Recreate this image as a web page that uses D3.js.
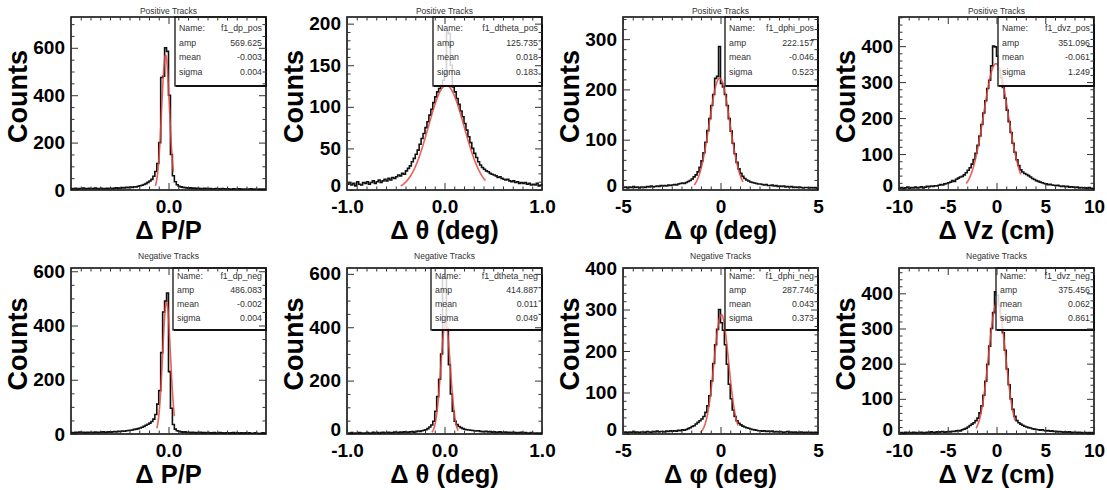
<!DOCTYPE html>
<html>
<head>
<meta charset="utf-8">
<script src="https://cdn.jsdelivr.net/npm/d3@7"></script>
<style>
  html, body { margin: 0; padding: 0; background: #fff; }
  svg { display: block; font-family: "Liberation Sans", Arial, Helvetica, sans-serif; }
</style>
</head>
<body>
<svg id="chart" width="1107" height="490"></svg>
<script>
// ---------- histogram contents, 100 equal bins over each x range ----------
const dpPos = [
  6,5,7,4,6,5,8,5,6,7, 5,6,8,6,5,7,6,5,7,6, 7,6,8,9,7,8,10,9,11,10,
  12,11,14,13,16,18,20,23,27,32, 38,45,58,78,112,200,475,480,600,585,
  400,150,60,35,22,16,13,11,10,9, 8,9,7,8,6,7,6,5,7,6, 5,6,4,5,6,5,4,6,5,4,
  5,4,3,5,4,4,5,3,4,4, 3,4,5,3,4,3,4,3,4,3
];
const dthetaPos = [
  7,9,6,8,5,10,7,6,9,8, 10,7,9,11,8,10,12,9,11,13, 11,14,12,15,14,16,18,17,20,19,
  23,26,29,34,38,43,48,55,62,68, 75,82,90,97,105,112,118,122,126,132,
  140,190,188,150,124,118,110,103,95,88, 80,72,64,57,50,44,39,34,30,27,
  25,23,22,20,19,18,17,15,16,14, 13,12,13,11,10,11,9,10,8,9, 8,9,7,8,6,7,6,8,5,6
];
const dphiPos = [
  5,6,4,6,5,7,5,6,4,6, 6,5,7,6,8,6,7,8,7,9, 8,9,8,10,9,10,11,10,12,13,
  14,13,15,17,19,22,26,30,36,45, 58,74,95,118,142,168,190,222,226,285,
  212,205,190,168,142,117,93,72,55,42, 33,27,23,20,18,16,15,14,13,12,
  12,11,10,11,9,9,10,8,9,7, 8,7,8,6,7,6,7,5,6,5, 6,5,4,5,5,4,5,4,5,3
];
const dvzPos = [
  5,7,4,6,8,5,7,6,8,6, 7,9,6,8,10,9,11,10,12,11, 13,15,14,17,18,20,22,26,24,30,
  33,36,38,42,48,55,62,72,85,102, 124,150,182,214,248,282,305,345,400,398,
  372,335,312,285,255,222,190,160,130,105, 84,68,56,50,46,43,40,36,32,29,
  26,24,22,20,18,17,15,16,14,13, 12,13,11,10,11,9,10,8,9,8, 7,8,6,7,6,6,5,7,5,4
];
const dpNeg = [
  5,4,6,5,7,5,6,4,6,5, 6,5,7,6,5,7,8,6,7,8, 7,8,9,8,10,9,11,10,12,13,
  14,15,17,18,20,22,25,28,32,36, 40,46,55,72,110,160,300,450,490,520,
  230,95,35,18,12,10,8,7,8,6, 6,5,6,5,4,5,6,4,5,4, 5,4,4,5,3,4,5,4,3,4,
  4,3,4,5,3,4,3,4,3,4, 3,4,3,3,4,3,2,3,4,3
];
const dthetaNeg = [
  4,3,5,2,4,3,5,4,3,4, 5,3,4,6,4,5,3,5,6,4, 5,6,4,5,7,6,5,7,6,8,
  7,6,8,9,7,9,11,10,12,14, 16,20,26,34,48,85,140,205,300,590,
  585,395,260,150,85,48,35,28,24,20, 18,16,15,14,13,12,11,12,10,9,
  9,10,8,9,7,8,6,7,8,6, 6,7,5,6,5,6,5,4,5,6, 4,5,4,3,5,4,3,4,3,4
];
const dphiNeg = [
  4,5,3,5,4,6,4,5,3,5, 5,4,6,5,4,6,5,7,5,6, 6,5,7,6,8,7,8,7,9,8,
  10,9,11,13,15,18,20,24,28,32, 36,42,52,68,92,128,170,215,252,300,
  268,250,215,168,120,85,58,42,32,26, 22,19,17,15,14,12,11,10,9,8,
  8,7,8,6,7,6,7,5,6,5, 6,5,4,5,6,4,5,4,5,3, 4,5,3,4,4,3,4,3,4,3
];
const dvzNeg = [
  3,4,2,5,3,4,3,5,4,3, 4,5,3,4,5,4,6,5,4,6, 5,6,7,5,6,7,6,8,7,9,
  10,9,12,14,16,20,24,28,32,38, 45,60,80,110,150,198,250,300,345,404,
  395,365,330,288,238,185,140,100,70,50, 38,32,28,25,22,20,18,17,15,14,
  13,12,11,12,10,9,10,8,9,7, 8,6,7,6,5,6,5,6,4,5, 5,4,5,4,3,4,3,4,3,4
];

// ---------- axes ----------
const rowTitles = ["Positive Tracks", "Negative Tracks"];
const axisTitles = ["\u0394 P/P", "\u0394 \u03b8 (deg)", "\u0394 \u03c6 (deg)", "\u0394 Vz (cm)"];
const xDomains = [[-0.1, 0.1], [-1, 1], [-5, 5], [-10, 10]];
const xTickValues = [[0], [-1, 0, 1], [-5, 0, 5], [-10, -5, 0, 5, 10]];
const xTickLabels = [["0.0"], ["-1.0", "0.0", "1.0"], ["-5", "0", "5"], ["-10", "-5", "0", "5", "10"]];
const xMinorSteps = [0.01, 0.1, 0.5, 1];
const yMaxPos = [730, 208, 344, 481];
const yMaxNeg = [612, 622, 400, 472];
const yStepPos = [200, 50, 100, 100];
const yStepNeg = [200, 200, 100, 100];
const yMinorPos = [50, 10, 20, 20];
const yMinorNeg = [50, 50, 20, 20];

// ---------- Gaussian fit results ----------
const fitNamesPos = ["f1_dp_pos", "f1_dtheta_pos", "f1_dphi_pos", "f1_dvz_pos"];
const fitNamesNeg = ["f1_dp_neg", "f1_dtheta_neg", "f1_dphi_neg", "f1_dvz_neg"];
const ampPos = [569.625, 125.735, 222.157, 351.096];
const meanPos = [-0.003, 0.018, -0.046, -0.061];
const sigmaPos = [0.004, 0.183, 0.523, 1.249];
const ampNeg = [486.083, 414.887, 287.746, 375.456];
const meanNeg = [-0.002, 0.011, 0.043, 0.062];
const sigmaNeg = [0.004, 0.049, 0.373, 0.861];
const fitRangePos = [[-0.0135, 0.005], [-0.45, 0.42], [-1.35, 1.15], [-3.1, 2.5]];
const fitRangeNeg = [[-0.012, 0.006], [-0.13, 0.14], [-1.05, 0.9], [-2.1, 1.9]];

const rows = [
  { title: rowTitles[0], counts: [dpPos, dthetaPos, dphiPos, dvzPos], names: fitNamesPos,
    amp: ampPos, mean: meanPos, sigma: sigmaPos, fitRange: fitRangePos,
    yMax: yMaxPos, yStep: yStepPos, yMinor: yMinorPos },
  { title: rowTitles[1], counts: [dpNeg, dthetaNeg, dphiNeg, dvzNeg], names: fitNamesNeg,
    amp: ampNeg, mean: meanNeg, sigma: sigmaNeg, fitRange: fitRangeNeg,
    yMax: yMaxNeg, yStep: yStepNeg, yMinor: yMinorNeg }
];

// ---------- layout ----------
const frameW = 195;
const colLeft = c => 71 + 276 * c;
const rowGeom = [
  { top: 17, bottom: 190, boxH: 69, textTop: 14, textStep: 14.5, titleY: 14 },
  { top: 268, bottom: 434, boxH: 62, textTop: 10.5, textStep: 14, titleY: 259 }
];
const boxWidths = [[91, 109, 93, 96], [93, 111, 93, 98]];
const boldFont = "'Liberation Sans', Arial, sans-serif";

const svg = d3.select("#chart");
const defs = svg.append("defs");
const fmt3 = v => v.toFixed(3);
const stepsBetween = (lo, hi, step) => {
  const out = [];
  const n0 = Math.ceil(lo / step - 1e-9), n1 = Math.floor(hi / step + 1e-9);
  for (let k = n0; k <= n1; k++) out.push(+(k * step).toFixed(6));
  return out;
};

rows.forEach((row, r) => {
  const geo = rowGeom[r];
  for (let c = 0; c < 4; c++) {
    const x0 = colLeft(c), x1 = x0 + frameW;
    const [lo, hi] = xDomains[c];
    const x = d3.scaleLinear().domain([lo, hi]).range([x0, x1]);
    const y = d3.scaleLinear().domain([0, row.yMax[c]]).range([geo.bottom, geo.top]);
    const g = svg.append("g");
    const clipId = `clip-${r}-${c}`;
    defs.append("clipPath").attr("id", clipId)
      .append("rect").attr("x", x0).attr("y", geo.top).attr("width", frameW).attr("height", geo.bottom - geo.top);

    // histogram outline
    const counts = row.counts[c];
    const bw = (hi - lo) / counts.length;
    const pts = counts.map((v, i) => [lo + i * bw, v]);
    pts.push([hi, counts[counts.length - 1]]);
    const histLine = d3.line().x(d => x(d[0])).y(d => y(d[1])).curve(d3.curveStepAfter);
    g.append("path").attr("d", histLine(pts))
      .attr("fill", "none").attr("stroke", "#111").attr("stroke-width", 1.6)
      .attr("clip-path", `url(#${clipId})`);

    // fitted Gaussian over its fit interval
    const [f0, f1] = row.fitRange[c];
    const A = row.amp[c], mu = row.mean[c], s = row.sigma[c];
    const gauss = t => A * Math.exp(-0.5 * ((t - mu) / s) ** 2);
    const ts = d3.range(0, 241).map(k => f0 + (f1 - f0) * k / 240);
    g.append("path")
      .attr("d", d3.line().x(t => x(t)).y(t => y(gauss(t)))(ts))
      .attr("fill", "none").attr("stroke", "#e5453b").attr("stroke-width", 1.6)
      .attr("stroke-opacity", 0.85).attr("clip-path", `url(#${clipId})`);

    // statistics box
    const bW = boxWidths[r][c];
    const bx = x1 - bW, by = geo.top;
    const box = g.append("g");
    box.append("rect").attr("x", bx).attr("y", by).attr("width", bW).attr("height", geo.boxH)
      .attr("fill", "#fff").attr("fill-opacity", 0.82).attr("stroke", "#111").attr("stroke-width", 1.3);
    box.append("path")
      .attr("d", `M${bx + 1},${by + geo.boxH} H${x1} V${by + 1}`)
      .attr("fill", "none").attr("stroke", "#111").attr("stroke-width", 2);
    const lines = [["Name:", row.names[c]], ["amp", fmt3(A)], ["mean", fmt3(mu)], ["sigma", fmt3(s)]];
    lines.forEach((ln, i) => {
      const ty = by + geo.textTop + i * geo.textStep;
      box.append("text").attr("x", bx + 4).attr("y", ty)
        .attr("font-size", 8.8).attr("fill", "#333").text(ln[0]);
      box.append("text").attr("x", x1 - 4).attr("y", ty).attr("text-anchor", "end")
        .attr("font-size", 8.8).attr("fill", "#333").text(ln[1]);
    });

    // frame
    g.append("rect").attr("x", x0).attr("y", geo.top).attr("width", frameW).attr("height", geo.bottom - geo.top)
      .attr("fill", "none").attr("stroke", "#111").attr("stroke-width", 1.6);

    // y axis ticks (left with labels, right mirrored)
    const yMajor = stepsBetween(0, row.yMax[c], row.yStep[c]);
    const yMinor = stepsBetween(0, row.yMax[c], row.yMinor[c]).filter(v => !yMajor.includes(v));
    const yLeft = g.append("g").attr("transform", `translate(${x0},0)`)
      .call(d3.axisLeft(y).tickValues(yMajor).tickSize(-7).tickPadding(6).tickFormat(d3.format("d")));
    yLeft.select(".domain").remove();
    yLeft.selectAll("text").attr("font-size", 19).attr("font-weight", "bold").attr("fill", "#000")
      .attr("font-family", boldFont);
    // the zero label sits a little higher where an x label starts at the frame corner
    if (xTickValues[c][0] === lo) {
      yLeft.selectAll(".tick").filter(d => d === 0).select("text").attr("dy", "0.06em");
    }
    const yLeftMinor = g.append("g").attr("transform", `translate(${x0},0)`)
      .call(d3.axisLeft(y).tickValues(yMinor).tickSize(-3.5).tickFormat(""));
    yLeftMinor.select(".domain").remove();
    const yRight = g.append("g").attr("transform", `translate(${x1},0)`)
      .call(d3.axisRight(y).tickValues(yMajor).tickSize(-7).tickFormat(""));
    yRight.select(".domain").remove();
    const yRightMinor = g.append("g").attr("transform", `translate(${x1},0)`)
      .call(d3.axisRight(y).tickValues(yMinor).tickSize(-3.5).tickFormat(""));
    yRightMinor.select(".domain").remove();

    // x axis ticks (bottom with labels, top mirrored)
    const xMajor = xTickValues[c];
    const xMinor = stepsBetween(lo, hi, xMinorSteps[c]).filter(v => !xMajor.includes(v) && v > lo && v < hi);
    const labels = xTickLabels[c];
    const xBottom = g.append("g").attr("transform", `translate(0,${geo.bottom})`)
      .call(d3.axisBottom(x).tickValues(xMajor).tickSize(-7).tickPadding(9.5)
        .tickFormat((d, i) => labels[i]));
    xBottom.select(".domain").remove();
    xBottom.selectAll("text").attr("font-size", 19).attr("font-weight", "bold").attr("fill", "#000")
      .attr("font-family", boldFont);
    const xBottomMinor = g.append("g").attr("transform", `translate(0,${geo.bottom})`)
      .call(d3.axisBottom(x).tickValues(xMinor).tickSize(-3.5).tickFormat(""));
    xBottomMinor.select(".domain").remove();
    const xTop = g.append("g").attr("transform", `translate(0,${geo.top})`)
      .call(d3.axisTop(x).tickValues(xMajor).tickSize(-7).tickFormat(""));
    xTop.select(".domain").remove();
    const xTopMinor = g.append("g").attr("transform", `translate(0,${geo.top})`)
      .call(d3.axisTop(x).tickValues(xMinor).tickSize(-3.5).tickFormat(""));
    xTopMinor.select(".domain").remove();
    g.selectAll(".tick line").attr("stroke", "#333").attr("stroke-width", 1);

    // titles
    g.append("text").attr("x", (x0 + x1) / 2).attr("y", geo.titleY).attr("text-anchor", "middle")
      .attr("font-size", 8.5).attr("fill", "#333").text(row.title);
    g.append("text").attr("x", (x0 + x1) / 2).attr("y", geo.bottom + 49).attr("text-anchor", "middle")
      .attr("font-size", 25.5).attr("font-weight", "bold").attr("fill", "#000")
      .attr("font-family", boldFont).text(axisTitles[c]);
    const cy = (geo.top + geo.bottom) / 2 - 7;
    g.append("text").attr("transform", `translate(${x0 - 44},${cy}) rotate(-90)`)
      .attr("text-anchor", "middle").attr("font-size", 27).attr("font-weight", "bold")
      .attr("font-family", boldFont).attr("fill", "#000").text("Counts");
  }
});
</script>
</body>
</html>
